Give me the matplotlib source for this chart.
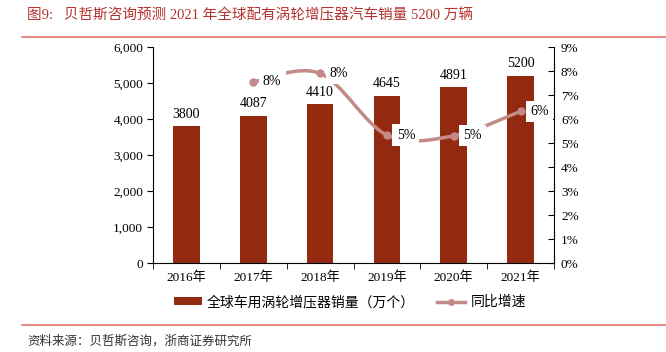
import matplotlib
matplotlib.use("Agg")
import matplotlib.pyplot as plt
from matplotlib.path import Path
from matplotlib.patches import PathPatch
from matplotlib.lines import Line2D
from matplotlib.patches import Patch
import numpy as np

plt.rcParams['font.family'] = ['Liberation Serif', 'Noto Sans CJK SC', 'DejaVu Sans']

years = ["2016年", "2017年", "2018年", "2019年", "2020年", "2021年"]
sales = [3800, 4087, 4410, 4645, 4891, 5200]
growth = [None, 7.55, 7.90, 5.33, 5.30, 6.32]
growth_labels = ["", "8%", "8%", "5%", "5%", "6%"]
bar_label = "全球车用涡轮增压器销量（万个）"
line_label = "同比增速"
title = "图9:   贝哲斯咨询预测 2021 年全球配有涡轮增压器汽车销量 5200 万辆"
source = "资料来源：贝哲斯咨询，浙商证券研究所"

bar_color = "#932A10"
line_color = "#C48A86"
title_color = "#B5322E"

fig = plt.figure(figsize=(6.66, 3.52), dpi=100)
ax = fig.add_axes([153/666, 1-263/352, (554-153)/666, (263-47)/352])
x = np.arange(len(years))
ax.bar(x, sales, width=0.4, color=bar_color, zorder=2)
ax.set_ylim(0, 6000)
ax.set_xlim(-0.5, len(years)-0.5)
ax.set_yticks(range(0, 6001, 1000))
ax.set_yticklabels([f"{v:,}" for v in range(0, 6001, 1000)], fontsize=9.5)
ax.set_xticks(x)
ax.set_xticklabels(years, fontsize=9.5)
ax.set_xticks(np.arange(-0.5, len(years), 1), minor=True)
ax.tick_params(axis='x', which='major', length=0, pad=6)
ax.tick_params(axis='x', which='minor', length=4, direction='out')
ax.tick_params(axis='y', length=4, direction='out', pad=3)
ax.spines['top'].set_visible(False)
ax.spines['right'].set_visible(False)
for i, v in enumerate(sales):
    ax.text(x[i], v + 150, str(v), ha='center', va='bottom', fontsize=10)

ax2 = ax.twinx()
ax2.set_ylim(0, 9)
ax2.set_yticks(range(0, 10))
ax2.set_yticklabels([f"{v}%" for v in range(0, 10)], fontsize=9.5)
ax2.tick_params(axis='y', length=4, direction='in', pad=5)
ax2.spines['top'].set_visible(False)
ax2.spines['left'].set_visible(False)
ax2.spines['bottom'].set_visible(False)

# smooth line via Catmull-Rom -> Bezier
px = [xi for xi, g in zip(x, growth) if g is not None]
py = [g for g in growth if g is not None]
P = np.column_stack([px, py]).astype(float)
verts = [tuple(P[0])]
codes = [Path.MOVETO]
n = len(P)
for i in range(n-1):
    p0 = P[i-1] if i > 0 else P[i]
    p1 = P[i]
    p2 = P[i+1]
    p3 = P[i+2] if i+2 < n else P[i+1]
    c1 = p1 + (p2 - p0) / 6
    c2 = p2 - (p3 - p1) / 6
    verts += [tuple(c1), tuple(c2), tuple(p2)]
    codes += [Path.CURVE4]*3
patch = PathPatch(Path(verts, codes), facecolor='none', edgecolor=line_color, lw=2.5, zorder=3)
ax2.add_patch(patch)
ax2.plot(px, py, 'o', color=line_color, ms=5, zorder=4)
for xi, g, lab in zip(x, growth, growth_labels):
    if g is None:
        continue
    ax2.annotate(lab, (xi, g), xytext=(7, 0), textcoords='offset points',
                 ha='left', va='center', fontsize=10, zorder=6, annotation_clip=False,
                 bbox=dict(boxstyle='square,pad=0.3', fc='white', ec='none'))

handles = [Patch(facecolor=bar_color, edgecolor='none'),
           Line2D([0], [0], color=line_color, lw=2.5, marker='o', ms=4)]
fig.legend(handles, [bar_label, line_label], loc='center', bbox_to_anchor=(350/666, 1-302/352),
           ncol=2, frameon=False, prop={'family': 'Noto Sans CJK SC', 'size': 10},
           handlelength=2.0, handleheight=0.5, columnspacing=1.6, handletextpad=0.4)

fig.text(27/666, 1-15/352, title, color=title_color, fontsize=10.5, va='center', ha='left',
         family=['Liberation Serif', 'Noto Sans CJK SC'])
fig.add_artist(Line2D([22/666, 1], [1-37/352]*2, color="#E07070", lw=1.2))
fig.add_artist(Line2D([22/666, 1], [1-325/352]*2, color="#E07070", lw=1.2))
fig.text(27/666, 1-341/352, source, fontsize=9, va='center', ha='left', color="#333333",
         family=['Noto Sans CJK SC'])

fig.savefig("out.png", dpi=100)
